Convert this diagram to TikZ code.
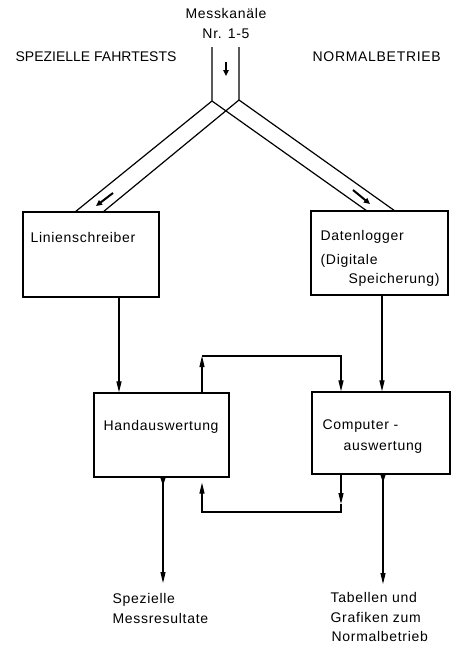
\documentclass[tikz,border=0pt]{standalone}
\usepackage{fontspec}
\setmainfont{Liberation Sans}[LetterSpace=5]
\usetikzlibrary{arrows.meta,calc}
\begin{document}
\begin{tikzpicture}[x=1pt,y=-1pt,
  line width=1.2pt,
  txt/.style={inner sep=0pt,anchor=base west,font=\fontsize{14}{19}\selectfont},
  ctxt/.style={txt,anchor=base},
  box/.style={draw,rectangle,inner sep=0pt,line width=1.3pt},
  arr/.style={-{Triangle[length=11pt,width=5pt]}},
  outarr/.style={{Triangle[reversed,length=8pt,width=5pt]}-{Triangle[length=11pt,width=5pt]}},
  parr/.style={line width=2pt,-{Triangle[length=6pt,width=5.5pt]}}]
\useasboundingbox (0,0) rectangle (454,646);

% headings
\node[ctxt] (mk) at (226,18) {Messkanäle};
\node[ctxt] (nr) at (226,38) {Nr. 1-5};
\node[txt] (spf) at (15,61) {\addfontfeature{LetterSpace=0}SPEZIELLE FAHRTESTS};
\node[txt] (nb) at (312,61) {NORMALBETRIEB};

% boxes
\node[box,minimum width=136pt,minimum height=85pt] (lin) at (91,254.5) {};
\node[box,minimum width=137pt,minimum height=84pt] (dat) at (379.5,253) {};
\node[box,minimum width=135pt,minimum height=84pt] (hand) at (161.5,435) {};
\node[box,minimum width=138pt,minimum height=82pt] (comp) at (381,433) {};

% box texts
\node[txt] (tlin) at (30,242) {Linienschreiber};
\node[txt] (tdat1) at (320,240) {Datenlogger};
\node[txt] (tdat2) at (320,264) {(Digitale};
\node[txt] (tdat3) at (348,283) {Speicherung)};
\node[txt] (thand) at (103,430) {Handauswertung};
\node[txt] (tcomp1) at (322,429) {Computer -};
\node[txt] (tcomp2) at (343,450) {auswertung};

% output texts
\node[txt] (o1a) at (112,603) {Spezielle};
\node[txt] (o1b) at (112,623) {Messresultate};
\node[txt] (o2a) at (330,602) {Tabellen und};
\node[txt] (o2b) at (330,622) {Grafiken zum};
\node[txt] (o2c) at (331,641) {Normalbetrieb};

% pipe
\coordinate (pl) at (212,47);
\coordinate (pr) at (239,47);
\coordinate (jl) at (212,101);
\coordinate (jr) at (239,100);
\coordinate (bl1) at (75,212);
\coordinate (bl2) at (103,212);
\coordinate (br1) at (367,211);
\coordinate (br2) at (395,211);
\draw (pl) -- (jl) -- (bl1);
\draw (jl) -- (br1);
\draw (pr) -- (jr) -- (bl2);
\draw (jr) -- (br2);

\coordinate (pa1) at (226,62);
\coordinate (pa2) at (226,76);
\coordinate (la1) at (113,193);
\coordinate (la2) at (96,206);
\coordinate (ra1) at (353,190);
\coordinate (ra2) at (370,204);
\draw[parr] (pa1) -- (pa2);
\draw[parr] (la1) -- (la2);
\draw[parr] (ra1) -- (ra2);

% column coordinates
\coordinate (x119) at (119,0);
\coordinate (x382) at (382,0);
\coordinate (lt) at (202,356);
\coordinate (rt) at (341,356);
\coordinate (lb) at (202,512);
\coordinate (rb) at (341,512);
\coordinate (rbm) at (341,504);
\coordinate (out1) at (163,583);
\coordinate (out2) at (383,584);

% connectors
\draw[arr] (lin.south -| x119) -- (hand.north -| x119);
\draw[arr] (dat.south -| x382) -- (comp.north -| x382);
\draw[arr] (hand.north -| lt) -- (lt);
\draw[arr] (lt) -- (rt) -- (comp.north -| rt);
\draw[arr] (comp.south -| rb) -- (rbm);
\draw[arr] (rbm) -- (rb) -- (lb) -- ([yshift=-5pt]hand.south -| lb);
\draw[outarr] (hand.south -| out1) -- (out1);
\draw[outarr] (comp.south -| out2) -- (out2);
\end{tikzpicture}
\end{document}
